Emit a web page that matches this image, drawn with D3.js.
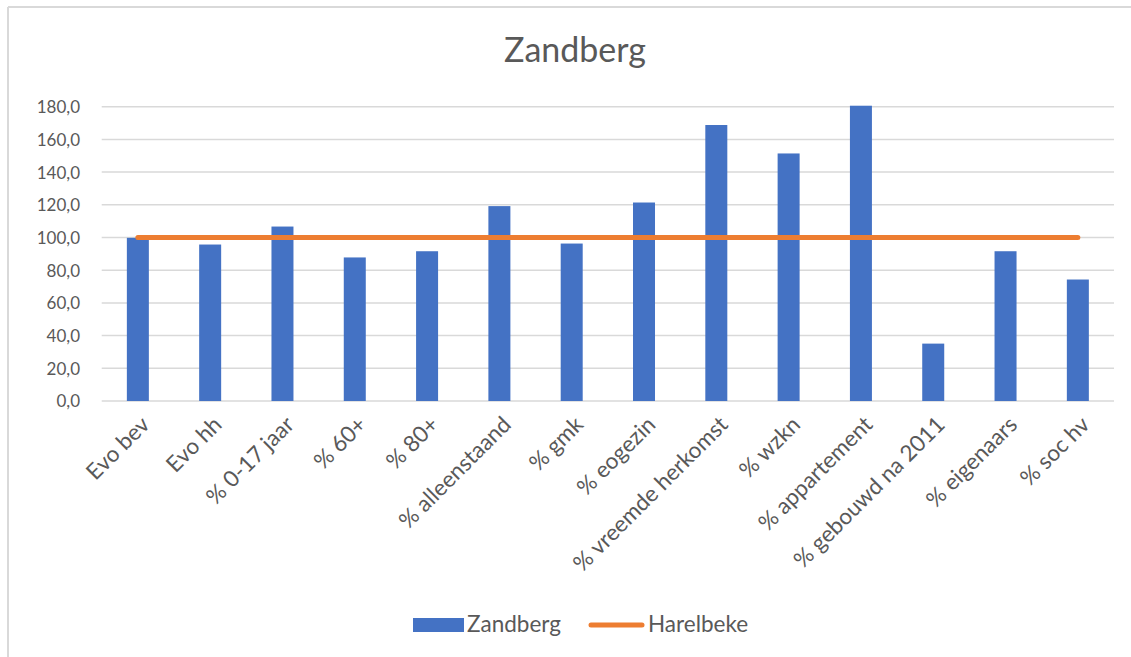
<!DOCTYPE html>
<html>
<head>
<meta charset="utf-8">
<script src="https://cdn.jsdelivr.net/npm/d3@7"></script>
<style>
  html, body { margin: 0; padding: 0; background: #fff; }
  svg { display: block; }
  text { font-family: Lato, "Open Sans", sans-serif; fill: #595959; }
</style>
</head>
<body>
<svg id="chart" width="1131" height="657"></svg>
<script>
const categories = ["Evo bev", "Evo hh", "% 0-17 jaar", "% 60+", "% 80+", "% alleenstaand", "% gmk", "% eogezin", "% vreemde herkomst", "% wzkn", "% appartement", "% gebouwd na 2011", "% eigenaars", "% soc hv"];
const zandberg = [99.8, 95.7, 106.7, 87.8, 91.6, 119.2, 96.3, 121.4, 168.8, 151.4, 180.6, 35.1, 91.6, 74.3];
const harelbeke = [100, 100, 100, 100, 100, 100, 100, 100, 100, 100, 100, 100, 100, 100];
const yTicks = [0, 20, 40, 60, 80, 100, 120, 140, 160, 180];
const title = "Zandberg";
const seriesNames = ["Zandberg", "Harelbeke"];

const svg = d3.select("#chart");
const W = 1131, H = 657;
const plot = { left: 101.7, right: 1114, top: 106.7, bottom: 401 };

// frame
svg.append("line").attr("x1", 8).attr("x2", W).attr("y1", 7).attr("y2", 7)
  .attr("stroke", "#d9d9d9").attr("stroke-width", 2);
svg.append("line").attr("x1", 8).attr("x2", 8).attr("y1", 7).attr("y2", H)
  .attr("stroke", "#d9d9d9").attr("stroke-width", 2);

const x = d3.scaleBand().domain(categories).range([plot.left, plot.right]).paddingInner(0).paddingOuter(0);
const y = d3.scaleLinear().domain([0, 180]).range([plot.bottom, plot.top]);

// gridlines
svg.append("g").selectAll("line").data(yTicks).join("line")
  .attr("x1", plot.left).attr("x2", plot.right)
  .attr("y1", d => y(d)).attr("y2", d => y(d))
  .attr("stroke", "#d9d9d9").attr("stroke-width", 1.5);

// y axis labels
const yAxis = d3.axisLeft(y).tickValues(yTicks).tickSize(0).tickPadding(0)
  .tickFormat(d => d3.format(".1f")(d).replace(".", ","));
const yg = svg.append("g").attr("transform", `translate(${80},0)`).call(yAxis);
yg.select(".domain").remove();
yg.selectAll("text").attr("font-size", 17).attr("fill", "#595959")
  .attr("font-family", "Lato, 'Open Sans', sans-serif").attr("dy", "0.35em");

// bars
const barW = 22;
svg.append("g").selectAll("rect").data(zandberg).join("rect")
  .attr("x", (d, i) => x(categories[i]) + x.bandwidth() / 2 - barW / 2)
  .attr("width", barW)
  .attr("y", d => y(d))
  .attr("height", d => y(0) - y(d))
  .attr("fill", "#4472c4");

// line
const line = d3.line()
  .x((d, i) => x(categories[i]) + x.bandwidth() / 2)
  .y(d => y(d));
svg.append("path").datum(harelbeke).attr("d", line)
  .attr("fill", "none").attr("stroke", "#ed7d31").attr("stroke-width", 5)
  .attr("stroke-linecap", "round");

// x axis labels
const xAxis = d3.axisBottom(x).tickSize(0).tickPadding(0);
const xg = svg.append("g").attr("transform", `translate(0,${plot.bottom})`).call(xAxis);
xg.select(".domain").remove();
xg.selectAll("text")
  .attr("font-size", 22.5).attr("fill", "#595959")
  .attr("font-family", "Lato, 'Open Sans', sans-serif")
  .attr("text-anchor", "end")
  .attr("dy", null).attr("y", null)
  .attr("transform", "translate(13,25) rotate(-45)");

// title
svg.append("text").attr("x", 575).attr("y", 62).attr("text-anchor", "middle")
  .attr("font-size", 34).attr("fill", "#595959").text(title);

// legend
const lg = svg.append("g");
lg.append("rect").attr("x", 413).attr("y", 618).attr("width", 51).attr("height", 14).attr("fill", "#4472c4");
lg.append("text").attr("x", 467).attr("y", 632).attr("font-size", 22.5).text(seriesNames[0]);
lg.append("line").attr("x1", 591).attr("x2", 642).attr("y1", 625).attr("y2", 625)
  .attr("stroke", "#ed7d31").attr("stroke-width", 5).attr("stroke-linecap", "round");
lg.append("text").attr("x", 648).attr("y", 632).attr("font-size", 22.5).text(seriesNames[1]);
</script>
</body>
</html>
